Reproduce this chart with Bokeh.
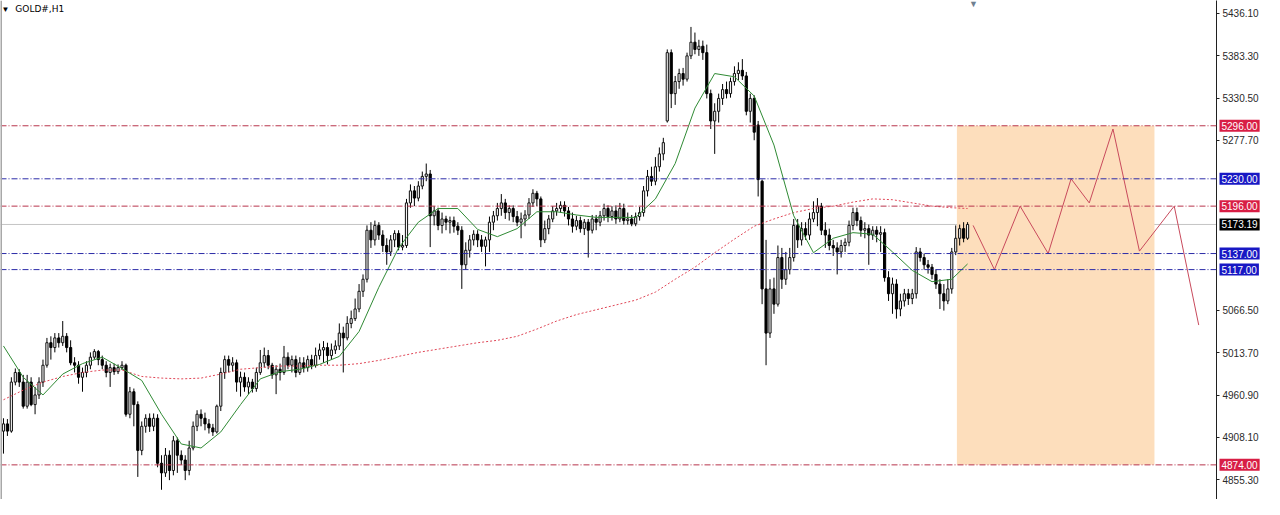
import numpy as np
from bokeh.plotting import figure
from bokeh.layouts import row
from bokeh.models import ColumnDataSource, Range1d, Span, Label, FixedTicker, PrintfTickFormatter
from bokeh.embed import file_html
from bokeh.resources import INLINE

# ---------------- data (GOLD#, H1) ----------------
opens = [
    4916, 4925, 4916, 4977, 4989, 4977, 4947, 4977, 4949, 4961,
    4977, 4998, 5026, 5020, 5032, 5026, 5034, 5020, 5001, 4998,
    4983, 4989, 4998, 5008, 5015, 5005, 4998, 4989, 4995, 4990,
    4995, 4998, 4937, 4965, 4949, 4892, 4922, 4932, 4922, 4932,
    4876, 4864, 4886, 4867, 4904, 4886, 4880, 4867, 4895, 4922,
    4937, 4932, 4925, 4920, 4915, 4947, 4989, 5005, 4998, 5001,
    4977, 4983, 4971, 4977, 4969, 4989, 5001, 5010, 4998, 4986,
    4993, 4989, 5008, 4998, 5005, 4989, 5001, 4995, 5005, 4998,
    5010, 5017, 5020, 5010, 5017, 5022, 5038, 5032, 5050, 5056,
    5068, 5090, 5105, 5166, 5154, 5172, 5160, 5147, 5139, 5154,
    5162, 5145, 5147, 5200, 5215, 5206, 5221, 5233, 5236, 5184,
    5190, 5172, 5180, 5176, 5178, 5171, 5166, 5123, 5141, 5154,
    5161, 5154, 5146, 5154, 5176, 5184, 5193, 5200, 5188, 5193,
    5183, 5176, 5180, 5185, 5200, 5212, 5205, 5154, 5168, 5180,
    5190, 5193, 5197, 5190, 5180, 5171, 5178, 5168, 5176, 5166,
    5180, 5176, 5184, 5193, 5183, 5190, 5180, 5193, 5178, 5180,
    5174, 5183, 5188, 5215, 5233, 5227, 5245, 5261, 5302, 5387,
    5336, 5351, 5361, 5354, 5383, 5400, 5391, 5395, 5387, 5336,
    5302, 5314, 5330, 5341, 5336, 5351, 5361, 5365, 5358, 5314,
    5330, 5297, 5227, 5093, 5038, 5093, 5074, 5132, 5105, 5117,
    5132, 5172, 5154, 5168, 5160, 5180, 5188, 5196, 5166, 5160,
    5147, 5144, 5139, 5147, 5151, 5172, 5188, 5178, 5166, 5168,
    5160, 5166, 5161, 5163, 5107, 5087, 5099, 5068, 5078, 5087,
    5081, 5087, 5139, 5132, 5123, 5120, 5111, 5099, 5087, 5078,
    5093, 5139, 5156, 5168, 5156,
]
highs = [
    4932, 4931, 4983, 4994, 4993, 4986, 4986, 4983, 4971, 4983,
    5005, 5032, 5034, 5038, 5038, 5053, 5038, 5029, 5008, 5003,
    4995, 5003, 5014, 5018, 5017, 5010, 5003, 5000, 5000, 4999,
    5003, 5000, 4971, 4969, 4953, 4928, 4937, 4938, 4938, 4937,
    4886, 4895, 4892, 4910, 4908, 4892, 4886, 4904, 4928, 4942,
    4943, 4939, 4931, 4925, 4949, 4995, 5010, 5010, 5008, 5005,
    4990, 4989, 4983, 4981, 4995, 5017, 5020, 5017, 5001, 4998,
    5000, 5022, 5014, 5010, 5010, 5008, 5008, 5010, 5011, 5020,
    5025, 5028, 5026, 5025, 5029, 5050, 5046, 5059, 5066, 5081,
    5099, 5111, 5172, 5176, 5178, 5176, 5166, 5156, 5160, 5166,
    5166, 5160, 5205, 5223, 5221, 5227, 5239, 5249, 5241, 5196,
    5194, 5188, 5184, 5183, 5183, 5176, 5171, 5151, 5160, 5166,
    5166, 5160, 5158, 5183, 5190, 5200, 5211, 5205, 5197, 5197,
    5190, 5188, 5191, 5206, 5217, 5215, 5208, 5178, 5185, 5196,
    5200, 5202, 5202, 5195, 5188, 5184, 5183, 5180, 5180, 5185,
    5185, 5190, 5199, 5197, 5196, 5197, 5200, 5199, 5188, 5185,
    5188, 5195, 5221, 5241, 5245, 5257, 5269, 5281, 5391, 5391,
    5358, 5367, 5368, 5387, 5419, 5412, 5403, 5402, 5397, 5341,
    5324, 5336, 5348, 5351, 5356, 5370, 5375, 5379, 5363, 5336,
    5334, 5302, 5229, 5154, 5105, 5107, 5147, 5144, 5139, 5144,
    5180, 5180, 5176, 5176, 5188, 5202, 5206, 5200, 5176, 5168,
    5154, 5151, 5154, 5156, 5178, 5194, 5194, 5183, 5176, 5173,
    5171, 5171, 5171, 5168, 5115, 5107, 5105, 5087, 5093, 5093,
    5093, 5145, 5144, 5137, 5129, 5124, 5117, 5105, 5099, 5105,
    5144, 5172, 5173, 5176, 5176,
]
lows = [
    4888, 4910, 4914, 4973, 4971, 4944, 4944, 4947, 4937, 4956,
    4971, 4995, 5005, 5014, 5020, 5022, 5014, 4998, 4989, 4975,
    4965, 4983, 4993, 5005, 4998, 4993, 4983, 4971, 4986, 4987,
    4992, 4934, 4932, 4922, 4859, 4886, 4914, 4915, 4916, 4871,
    4843, 4859, 4855, 4861, 4864, 4874, 4855, 4861, 4892, 4916,
    4922, 4917, 4913, 4910, 4913, 4941, 4981, 4989, 4990, 4965,
    4959, 4965, 4962, 4964, 4965, 4986, 4995, 4993, 4981, 4962,
    4979, 4986, 4993, 4989, 4983, 4986, 4989, 4990, 4993, 4995,
    5005, 5001, 4999, 5005, 5012, 5017, 4989, 5029, 5044, 5053,
    5064, 5083, 5101, 5144, 5147, 5154, 5139, 5123, 5134, 5145,
    5141, 5141, 5144, 5194, 5196, 5202, 5217, 5227, 5145, 5172,
    5166, 5162, 5166, 5162, 5163, 5160, 5093, 5117, 5132, 5147,
    5145, 5139, 5121, 5139, 5166, 5178, 5184, 5180, 5178, 5176,
    5171, 5156, 5171, 5180, 5195, 5196, 5145, 5150, 5161, 5176,
    5184, 5188, 5183, 5172, 5163, 5166, 5163, 5160, 5132, 5162,
    5166, 5171, 5178, 5176, 5178, 5174, 5176, 5173, 5173, 5171,
    5171, 5178, 5183, 5208, 5221, 5222, 5239, 5253, 5300, 5318,
    5322, 5342, 5346, 5351, 5379, 5385, 5383, 5378, 5330, 5292,
    5261, 5300, 5322, 5330, 5331, 5346, 5353, 5353, 5309, 5300,
    5278, 5208, 5074, 4998, 5032, 5062, 5071, 5093, 5098, 5111,
    5127, 5144, 5147, 5154, 5154, 5176, 5171, 5160, 5144, 5141,
    5134, 5111, 5132, 5139, 5146, 5166, 5171, 5158, 5156, 5123,
    5154, 5151, 5139, 5102, 5078, 5062, 5056, 5059, 5071, 5073,
    5074, 5081, 5127, 5117, 5112, 5105, 5093, 5068, 5066, 5074,
    5087, 5135, 5147, 5151, 5154,
]
closes = [
    4925, 4916, 4977, 4989, 4977, 4947, 4977, 4949, 4961, 4977,
    4998, 5026, 5020, 5032, 5026, 5034, 5020, 5001, 4998, 4983,
    4989, 4998, 5008, 5015, 5005, 4998, 4989, 4995, 4990, 4995,
    4998, 4937, 4965, 4949, 4892, 4922, 4932, 4922, 4932, 4876,
    4864, 4886, 4867, 4904, 4886, 4880, 4867, 4895, 4922, 4937,
    4932, 4925, 4920, 4915, 4947, 4989, 5005, 4998, 5001, 4977,
    4983, 4971, 4977, 4969, 4989, 5001, 5010, 4998, 4986, 4993,
    4989, 5008, 4998, 5005, 4989, 5001, 4995, 5005, 4998, 5010,
    5017, 5020, 5010, 5017, 5022, 5038, 5032, 5050, 5056, 5068,
    5090, 5105, 5166, 5154, 5172, 5160, 5147, 5139, 5154, 5162,
    5145, 5147, 5200, 5215, 5206, 5221, 5233, 5236, 5184, 5190,
    5172, 5180, 5176, 5178, 5171, 5166, 5123, 5141, 5154, 5161,
    5154, 5146, 5154, 5176, 5184, 5193, 5200, 5188, 5193, 5183,
    5176, 5180, 5185, 5200, 5212, 5205, 5154, 5168, 5180, 5190,
    5193, 5197, 5190, 5180, 5171, 5178, 5168, 5176, 5166, 5180,
    5176, 5184, 5193, 5183, 5190, 5180, 5193, 5178, 5180, 5174,
    5183, 5188, 5215, 5233, 5227, 5245, 5261, 5275, 5387, 5336,
    5351, 5361, 5354, 5383, 5400, 5391, 5395, 5387, 5336, 5302,
    5314, 5330, 5341, 5336, 5351, 5361, 5365, 5358, 5314, 5330,
    5288, 5229, 5093, 5038, 5093, 5074, 5132, 5105, 5117, 5132,
    5172, 5154, 5168, 5160, 5180, 5188, 5196, 5166, 5160, 5147,
    5144, 5139, 5147, 5151, 5172, 5188, 5178, 5166, 5168, 5160,
    5166, 5161, 5163, 5107, 5087, 5099, 5068, 5078, 5087, 5081,
    5087, 5139, 5132, 5123, 5120, 5111, 5099, 5087, 5078, 5093,
    5139, 5156, 5168, 5156, 5173.19,
]

ma_bars = list(range(0, 241, 5)) + [244]
ma_fast = [
    5022, 4983, 4961, 4987, 5000, 5008, 4994, 4979, 4937, 4900,
    4895, 4915, 4949, 4981, 4990, 4993, 4999, 5009, 5040, 5095,
    5144, 5176, 5193, 5193, 5167, 5158, 5168, 5189, 5189, 5185,
    5182, 5182, 5182, 5205, 5249, 5318, 5361, 5357, 5333, 5272,
    5184, 5138, 5156, 5163, 5161, 5139, 5116, 5102, 5105, 5124,
]
ma_slow = [
    4955, 4967, 4977, 4984, 4989, 4992, 4992, 4984, 4982, 4981,
    4982, 4987, 4993, 4995, 4997, 4997, 4998, 4998, 5000, 5004,
    5009, 5014, 5018, 5022, 5026, 5029, 5034, 5043, 5053, 5061,
    5067, 5073, 5079, 5089, 5105, 5120, 5138, 5155, 5171, 5180,
    5188, 5193, 5196, 5201, 5205, 5204, 5200, 5196, 5194, 5193,
]

# projected path (drawn by hand on the chart)
proj_bars = [245.4, 250.8, 257.3, 264.4, 270.2, 274.8, 280.8, 287.5, 296.3, 302.5]
proj_prices = [5172, 5117, 5196, 5137, 5230, 5200, 5292, 5140, 5196, 5048]

# target zone rectangle
zone_bars = [241.3, 291.3]
zone_prices = [4874, 5296]

# horizontal levels
red_levels = [5296.00, 5196.00, 4874.00]
blue_levels = [5230.00, 5137.00, 5117.00]
last_price = 5173.19

# price axis ticks
tick_values = [5436.10, 5383.30, 5330.50, 5277.70, 5066.50, 5013.70, 4960.90, 4908.10, 4855.30]

symbol_text = "GOLD#,H1"

# ---------------- main chart ----------------
W, H, AXW = 1264, 499, 48
X0, X1 = -0.75, 307.0
yr = Range1d(4830.9, 5451.9)
p = figure(width=W, height=H, x_range=Range1d(X0, X1), y_range=yr,
           x_axis_location=None, y_axis_location="right",
           output_backend="svg", toolbar_location=None,
           min_border_left=0, min_border_top=0, min_border_bottom=0, min_border_right=AXW)
p.grid.visible = False
p.outline_line_color = None
p.background_fill_color = "white"
p.border_fill_color = "white"

yax = p.yaxis[0]
yax.ticker = FixedTicker(ticks=tick_values)
yax.formatter = PrintfTickFormatter(format="%.2f")
yax.axis_line_color = "#202020"
yax.major_tick_in = 0
yax.major_tick_out = 3
yax.major_tick_line_color = "#202020"
yax.minor_tick_out = 0
yax.minor_tick_in = 0
yax.major_label_text_font = "Liberation Sans"
yax.major_label_text_font_size = "10px"
yax.major_label_text_color = "#2a2a2a"
yax.major_label_standoff = 3

# zone
p.quad(left=[zone_bars[0]], right=[zone_bars[1]], bottom=[zone_prices[0]], top=[zone_prices[1]],
       fill_color="#FDDEBC", line_color=None)

# current price line
p.add_layout(Span(location=last_price, dimension="width", line_color="#C4C4C4", line_width=1,
                  level="underlay"))

# candles
o = np.array(opens, dtype=float)
c = np.array(closes, dtype=float)
h = np.array(highs, dtype=float)
l = np.array(lows, dtype=float)
idx = np.arange(len(c))
up = c >= o
src_w = ColumnDataSource(dict(x=idx, high=h, low=l))
src_up = ColumnDataSource(dict(x=idx[up], top=c[up], bottom=o[up]))
src_dn = ColumnDataSource(dict(x=idx[~up], top=o[~up], bottom=c[~up]))

p.segment(x0="x", y0="low", x1="x", y1="high", source=src_w, line_color="black", line_width=1)
p.vbar(x="x", top="top", bottom="bottom", width=0.55, source=src_up,
       fill_color="#f4f4f4", line_color="#111111", line_width=1)
p.vbar(x="x", top="top", bottom="bottom", width=0.55, source=src_dn,
       fill_color="black", line_color="black", line_width=1)

# moving averages
p.line(ma_bars, ma_slow, line_color="#E04858", line_width=1, line_dash="2 2")
p.line(ma_bars, ma_fast, line_color="#2F8A34", line_width=1)

# levels
for lv in red_levels:
    p.add_layout(Span(location=lv, dimension="width", line_color="#B8344C", line_width=1,
                      line_dash="6 2 1 2"))
for lv in blue_levels:
    p.add_layout(Span(location=lv, dimension="width", line_color="#2C2CA8", line_width=1,
                      line_dash="6 2 1 2"))

# projection path
p.line(proj_bars, proj_prices, line_color="#C84A5C", line_width=1)

# left window border
p.add_layout(Span(location=X0, dimension="height", line_color="#A8A8A8", line_width=3))

# symbol caption and shift marker
p.add_layout(Label(x=0.5, y=5441, text="▼", text_color="black", text_font_size="8px",
                   text_align="center", text_baseline="middle"))
p.add_layout(Label(x=3.0, y=5441, text=symbol_text, text_color="black",
                   text_font="DejaVu Sans", text_font_size="9px",
                   text_align="left", text_baseline="middle"))
p.add_layout(Label(x=245.5, y=5447, text="▼", text_color="#6F8090", text_font_size="9px",
                   text_align="center", text_baseline="middle"))

# ---------------- price tags, laid over the axis strip ----------------
tags = figure(width=AXW, height=H, x_range=Range1d(0, AXW), y_range=yr,
              x_axis_location=None, y_axis_location=None,
              output_backend="svg", toolbar_location=None,
              min_border_left=0, min_border_right=0, min_border_top=0, min_border_bottom=0,
              styles={"margin-left": f"-{AXW}px"})
tags.grid.visible = False
tags.outline_line_color = None
tags.background_fill_color = None
tags.border_fill_color = None


def tag(val, bg):
    tags.add_layout(Label(x=3, y=val, text=f"{val:.2f}", text_color="white",
                          text_font="Liberation Sans", text_font_size="10px",
                          text_align="left", text_baseline="middle",
                          background_fill_color=bg, padding=2))


for lv in red_levels:
    tag(lv, "#D81E45")
for lv in blue_levels:
    tag(lv, "#1818C4")
tag(last_price, "#000000")

layout = row(p, tags, spacing=0)
open("out.html", "w").write(file_html(layout, INLINE))
